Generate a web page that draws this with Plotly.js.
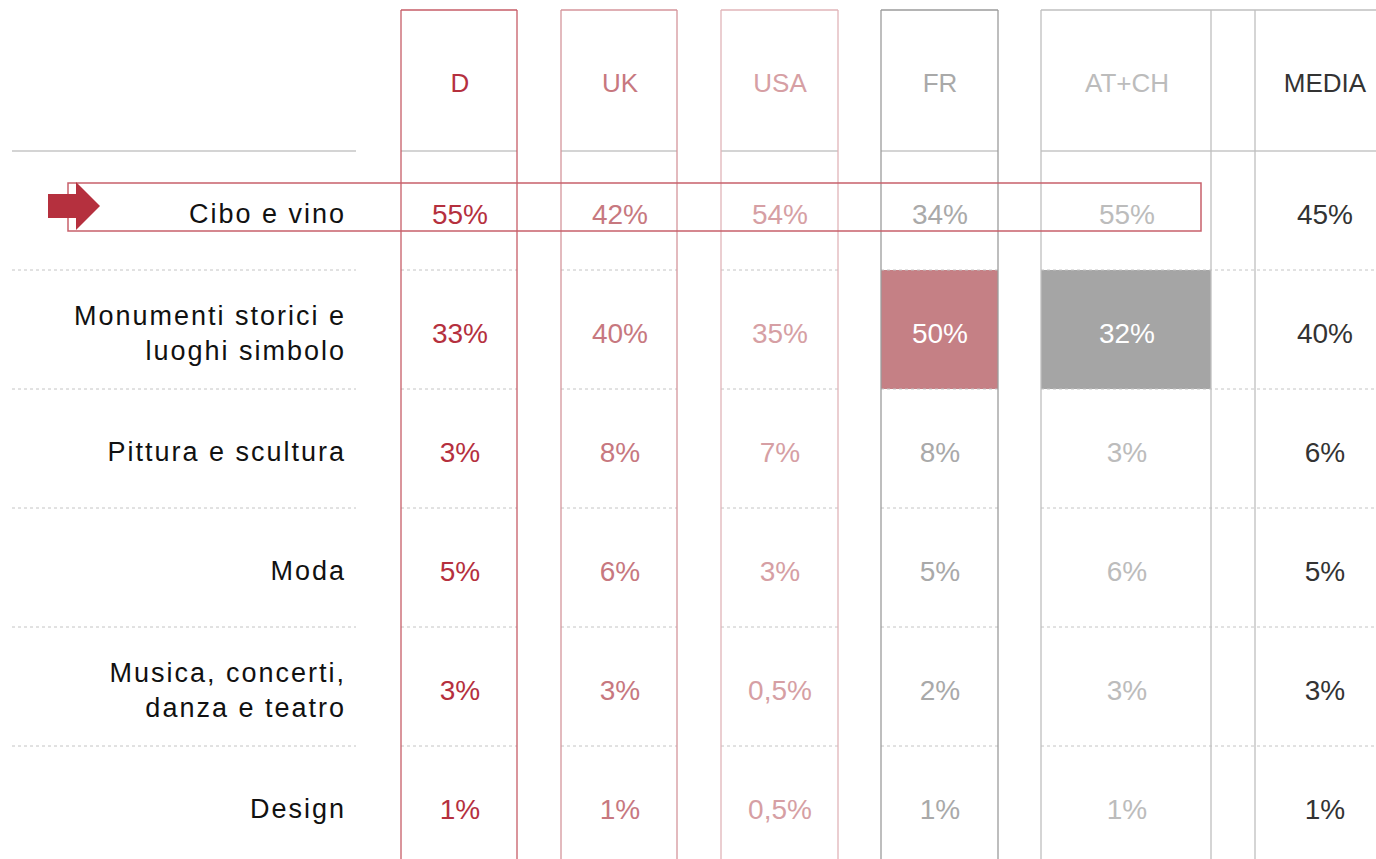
<!DOCTYPE html>
<html>
<head>
<meta charset="utf-8">
<script src="https://cdn.plot.ly/plotly-3.0.1.min.js"></script>
<style>
  html, body { margin: 0; padding: 0; background: #fff; }
  #chart { width: 1376px; height: 859px; }
  .scatterlayer .trace:first-child text { letter-spacing: 2px; }
</style>
</head>
<body>
<div id="chart"></div>
<script>
// ---- DATA ----
const categories = ["Cibo e vino", "Monumenti storici e<br>luoghi simbolo", "Pittura e scultura", "Moda", "Musica, concerti,<br>danza e teatro", "Design"];
const countries = ["D", "UK", "USA", "FR", "AT+CH", "MEDIA"];
const valD = [55, 33, 3, 5, 3, 1];
const valUK = [42, 40, 8, 6, 3, 1];
const valUSA = [54, 35, 7, 3, 0.5, 0.5];
const valFR = [34, 50, 8, 5, 2, 1];
const valATCH = [55, 32, 3, 6, 3, 1];
const valMEDIA = [45, 40, 6, 5, 3, 1];
const highlightedCells = [["FR", 1], ["AT+CH", 1]]; // [country, category index]
const focusCategory = 0;

// ---- STYLE / LAYOUT CONFIG ----
const W = 1376, H = 859;
const colGeom = [
  {l: 401, r: 517, c: 460},
  {l: 561, r: 677, c: 620},
  {l: 721, r: 838, c: 780},
  {l: 881, r: 998, c: 940},
  {l: 1041, r: 1211, c: 1127},
  {l: 1255, r: null, c: 1325}
];
const valueColors = ["#b5303e", "#c7787f", "#d69fa4", "#a9a9a9", "#bcbcbc", "#333333"];
const headerColors = ["#b5303e", "#c7787f", "#d69fa4", "#a9a9a9", "#bcbcbc", "#333333"];
const borderColors = ["#c65c67", "#d4959b", "#e1b4b8", "#9b9b9b", "#bfbfbf", "#bfbfbf"];
const cellFill = {"FR": "#c58085", "AT+CH": "#a5a5a5"};
const topY = 10, headerBottom = 151, rowH = 119;
const labelRight = 346, labelLineL = 12, labelLineR = 356;
const FONT = "Liberation Sans, Arial, sans-serif";

const series = [valD, valUK, valUSA, valFR, valATCH, valMEDIA];
const fmt = v => String(v).replace(".", ",") + "%";
const rowTop = i => headerBottom + rowH * i;
const rowMid = i => rowTop(i) + rowH / 2;
const textMid = i => rowMid(i) + 6;

const traces = [];
// labels (first trace -> letter-spacing CSS)
traces.push({
  type: "scatter", mode: "text",
  x: categories.map(() => labelRight), y: categories.map((_, i) => textMid(i)),
  text: categories, textposition: "middle left",
  textfont: {family: FONT, size: 27, color: "#111111"},
  hoverinfo: "skip", cliponaxis: false
});
// headers
traces.push({
  type: "scatter", mode: "text",
  x: colGeom.map(g => g.c), y: countries.map(() => 85),
  text: countries, textposition: "middle center",
  textfont: {family: FONT, size: 26, color: headerColors},
  hoverinfo: "skip", cliponaxis: false
});
// values
countries.forEach((cn, k) => {
  const colors = series[k].map((v, i) =>
    highlightedCells.some(h => h[0] === cn && h[1] === i) ? "#ffffff" : valueColors[k]);
  traces.push({
    type: "scatter", mode: "text",
    x: series[k].map(() => colGeom[k].c), y: series[k].map((_, i) => textMid(i)),
    text: series[k].map(fmt), textposition: "middle center",
    textfont: {family: FONT, size: 28, color: colors},
    hoverinfo: "skip", cliponaxis: false
  });
});

const shapes = [];
// shaded cells
highlightedCells.forEach(([cn, i]) => {
  const g = colGeom[countries.indexOf(cn)];
  shapes.push({type: "rect", layer: "below", x0: g.l, x1: g.r, y0: rowTop(i), y1: rowTop(i + 1),
    fillcolor: cellFill[cn], line: {width: 0}});
});
// horizontal separators
const segs = [[labelLineL, labelLineR]].concat(colGeom.slice(0, 4).map(g => [g.l, g.r])).concat([[colGeom[4].l, W]]);
segs.forEach(([a, b]) => {
  shapes.push({type: "line", layer: "below", x0: a, x1: b, y0: headerBottom, y1: headerBottom,
    line: {color: "#d4d4d4", width: 2}});
  for (let i = 1; i < categories.length; i++) {
    shapes.push({type: "line", layer: "below", x0: a, x1: b, y0: rowTop(i), y1: rowTop(i),
      line: {color: "#c4c4c4", width: 1, dash: "dot"}});
  }
});
// column borders
colGeom.forEach((g, k) => {
  const col = borderColors[k];
  shapes.push({type: "line", x0: g.l, x1: g.l, y0: topY, y1: H, line: {color: col, width: 1.3}});
  if (g.r !== null) shapes.push({type: "line", x0: g.r, x1: g.r, y0: topY, y1: H, line: {color: col, width: 1.3}});
  const right = g.r === null ? W : (k === 4 ? colGeom[5].l : g.r);
  shapes.push({type: "line", x0: g.l, x1: right, y0: topY, y1: topY, line: {color: col, width: 1.5}});
});
// focus row box + arrow
const fy0 = 183, fy1 = 231;
shapes.push({type: "rect", x0: 68, x1: 1201, y0: fy0, y1: fy1, line: {color: "#c8606b", width: 1.5}, fillcolor: "rgba(0,0,0,0)"});
const ay = (fy0 + fy1) / 2 - 1;
shapes.push({type: "path",
  path: `M48,${ay - 12} L76,${ay - 12} L76,${ay - 24} L100,${ay} L76,${ay + 24} L76,${ay + 12} L48,${ay + 12} Z`,
  fillcolor: "#b5303e", line: {width: 0}});

const layout = {
  width: W, height: H,
  margin: {l: 0, r: 0, t: 0, b: 0},
  paper_bgcolor: "#ffffff", plot_bgcolor: "#ffffff",
  showlegend: false,
  xaxis: {range: [0, W], visible: false, fixedrange: true},
  yaxis: {range: [H, 0], visible: false, fixedrange: true},
  shapes: shapes
};
Plotly.newPlot("chart", traces, layout, {displayModeBar: false, staticPlot: true});
</script>
</body>
</html>
